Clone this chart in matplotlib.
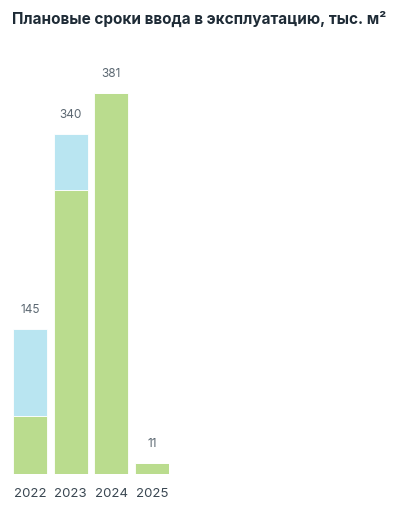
import matplotlib
matplotlib.use("Agg")
import matplotlib.pyplot as plt

years = ["2022", "2023", "2024", "2025"]
green = [58, 284, 381, 11]
blue = [87, 56, 0, 0]
totals = [145, 340, 381, 11]

plt.rcParams['font.family'] = ['Inter', 'DejaVu Sans']

W, H = 397, 509
fig = plt.figure(figsize=(W / 100, H / 100), dpi=100)
w = 0.835
left_px, right_px = 13, 169
bottom_px = 474
ax = fig.add_axes([left_px / W, 1 - bottom_px / H, (right_px - left_px) / W, 400 / H])
x = list(range(len(years)))
ax.bar(x, green, width=w, color="#badc8e", edgecolor="white", linewidth=0.6)
ax.bar(x, blue, width=w, bottom=green, color="#b9e5f1", edgecolor="white", linewidth=0.6)
ax.set_xlim(-w / 2, len(years) - 1 + w / 2)
ax.set_ylim(0, 400)
for xi, t in zip(x, totals):
    ax.annotate(str(t), (xi, t), xytext=(0, 14), textcoords="offset points",
                ha="center", va="center", fontsize=8.5, color="#5c6872")
ax.set_xticks(x)
ax.set_xticklabels(years, fontsize=9.5, color="#3a4752")
ax.tick_params(axis="x", length=0, pad=10)
ax.set_yticks([])
for s in ax.spines.values():
    s.set_visible(False)
fig.text(12 / W, 1 - 19 / H, "Плановые сроки ввода в эксплуатацию, тыс. м²",
         fontsize=11, fontweight="bold", color="#1e2b36", ha="left", va="center")
fig.savefig("out.png", dpi=100)
